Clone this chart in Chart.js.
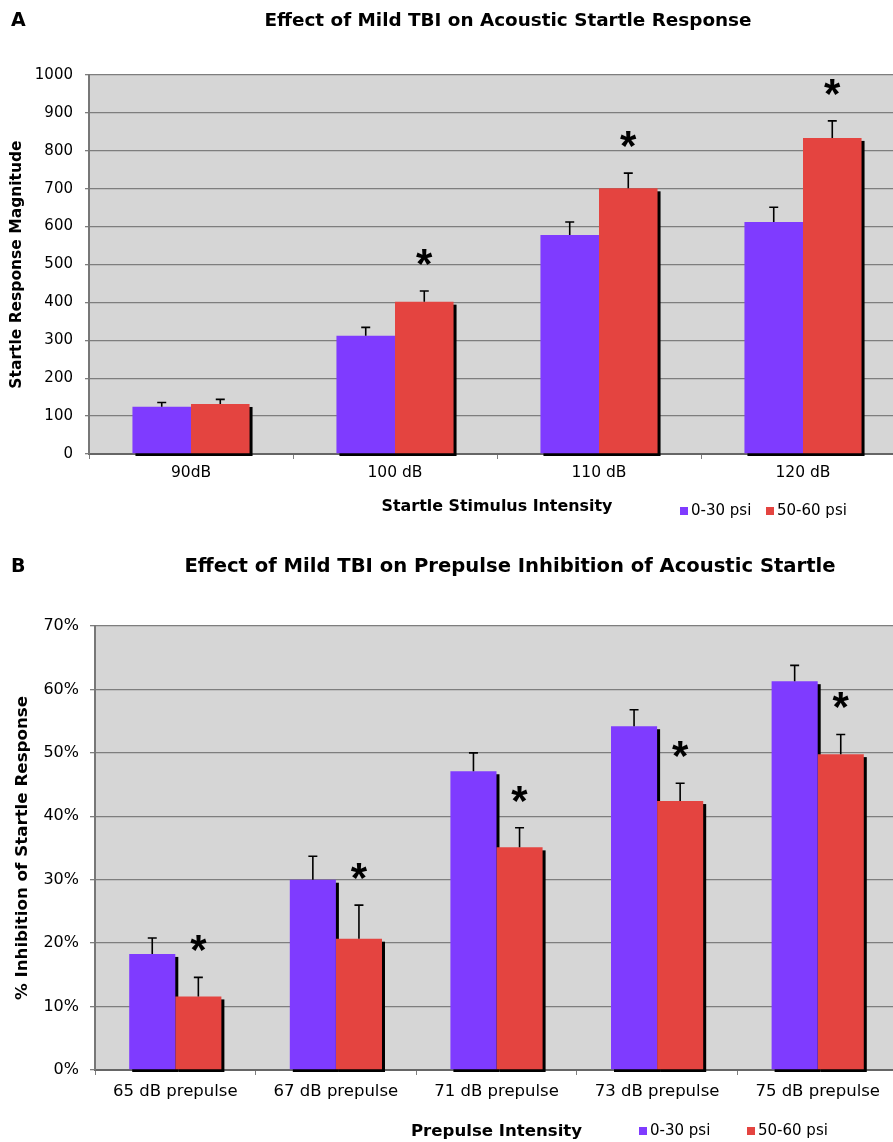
<!DOCTYPE html>
<html><head><meta charset="utf-8">
<script src="https://cdn.jsdelivr.net/npm/chart.js@4.4.1/dist/chart.umd.min.js"></script>
<style>
html,body{margin:0;padding:0;background:#fff;overflow:hidden;width:893px;height:1142px;position:relative;}
canvas{position:absolute;left:0;}
</style>
</head><body>
<canvas id="cA" width="910" height="545" style="top:0px"></canvas>
<canvas id="cB" width="910" height="597" style="top:545px"></canvas>
<script>
// ---------- data ----------
const seriesNames = ['0-30 psi', '50-60 psi'];
const catsA = ['90dB', '100 dB', '110 dB', '120 dB'];
const lowA = [125, 312, 578, 612];
const highA = [132, 402, 701, 834];
const lowErrA = [11, 22, 34, 39];
const highErrA = [12, 28, 40, 45];
const sigA = [false, true, true, true];

const catsB = ['65 dB prepulse', '67 dB prepulse', '71 dB prepulse', '73 dB prepulse', '75 dB prepulse'];
const lowB = [18.3, 30.0, 47.1, 54.2, 61.3];
const highB = [11.6, 20.7, 35.1, 42.4, 49.8];
const lowErrB = [2.5, 3.7, 2.9, 2.6, 2.5];
const highErrB = [3.0, 5.3, 3.1, 2.8, 3.1];
const sigB = [true, true, true, true, true];

// ---------- styles ----------
const FONT = "'DejaVu Sans', Verdana, sans-serif";
const PURPLE = '#7f3bff';
const RED = '#e44440';
const PLOTBG = '#d6d6d6';
const GRID = '#7e7e7e';

function plotBg() {
  return { id: 'plotBg', beforeDraw(chart) {
    const a = chart.chartArea, c = chart.ctx;
    c.save(); c.fillStyle = PLOTBG;
    c.fillRect(a.left, a.top, a.right - a.left, a.bottom - a.top);
    c.restore();
  }};
}
function barShadow() {
  return { id: 'barShadow', beforeDatasetsDraw(chart) {
    const a = chart.chartArea, c = chart.ctx;
    c.save(); c.beginPath();
    c.rect(a.left, a.top, a.right - a.left + 10, a.bottom - a.top + 2); c.clip();
    c.fillStyle = '#000';
    chart.data.datasets.forEach((ds, i) => {
      chart.getDatasetMeta(i).data.forEach(b => {
        const p = b.getProps(['x', 'y', 'base', 'width'], true);
        c.fillRect(p.x - p.width / 2 + 3, p.y + 3, p.width, p.base - p.y);
      });
    });
    c.restore();
  }};
}
function errStars(errs, sig, cap, gap) {
  return { id: 'errStars', afterDatasetsDraw(chart) {
    const c = chart.ctx, ys = chart.scales.y;
    c.save(); c.strokeStyle = '#000'; c.lineWidth = 1.6;
    chart.data.datasets.forEach((ds, i) => {
      chart.getDatasetMeta(i).data.forEach((b, j) => {
        const yt = ys.getPixelForValue(ds.data[j] + errs[i][j]);
        c.beginPath();
        c.moveTo(b.x, b.y); c.lineTo(b.x, yt);
        c.moveTo(b.x - cap, yt); c.lineTo(b.x + cap, yt);
        c.stroke();
      });
    });
    const ds = chart.data.datasets[1], meta = chart.getDatasetMeta(1);
    c.font = "bold 42px 'Liberation Sans', Arial, sans-serif";
    c.fillStyle = '#000'; c.textAlign = 'center'; c.textBaseline = 'alphabetic';
    const m = c.measureText('*');
    sig.forEach((s, j) => {
      if (!s) return;
      const b = meta.data[j];
      const yt = ys.getPixelForValue(ds.data[j] + errs[1][j]);
      const cy = yt - gap;
      c.fillText('*', b.x, cy + (m.actualBoundingBoxAscent - m.actualBoundingBoxDescent) / 2);
    });
    c.restore();
  }};
}
function header(letter, title, titleX, y, size) {
  return { id: 'header', afterDraw(chart) {
    const c = chart.ctx;
    c.save(); c.fillStyle = '#000'; c.textBaseline = 'middle';
    c.font = `bold 19px ${FONT}`; c.textAlign = 'left';
    c.fillText(letter, 11, y);
    c.font = `bold ${size}px ${FONT}`; c.textAlign = 'center';
    c.fillText(title, titleX, y);
    c.restore();
  }};
}
function legendBox(x1, x2, y) {
  return { id: 'legendBox', afterDraw(chart) {
    const c = chart.ctx;
    c.save(); c.textBaseline = 'middle'; c.textAlign = 'left';
    c.font = `15px ${FONT}`;
    [[x1, PURPLE], [x2, RED]].forEach(([x, col], i) => {
      c.fillStyle = col; c.fillRect(x, y - 4, 8, 8);
      c.fillStyle = '#000'; c.fillText(seriesNames[i], x + 11, y);
    });
    c.restore();
  }};
}

function makeChart(id, cfg) {
  return new Chart(document.getElementById(id), {
    type: 'bar',
    data: {
      labels: cfg.cats,
      datasets: [
        { label: seriesNames[0], data: cfg.low, backgroundColor: PURPLE, borderWidth: 0 },
        { label: seriesNames[1], data: cfg.high, backgroundColor: RED, borderWidth: 0 }
      ]
    },
    options: {
      responsive: false, animation: false, devicePixelRatio: 1,
      layout: { padding: cfg.pad },
      datasets: { bar: { categoryPercentage: 0.574, barPercentage: 1 } },
      plugins: { legend: { display: false }, tooltip: { enabled: false }, title: { display: false } },
      scales: {
        x: {
          grid: { drawOnChartArea: false, drawTicks: true, tickLength: 5, color: GRID, offset: true },
          border: { color: '#666', width: 2 },
          ticks: { color: '#000', font: { family: FONT, size: cfg.tickSize }, padding: cfg.xTickPad, maxRotation: 0 },
          title: { display: true, text: cfg.xTitle, color: '#000', font: { family: FONT, size: cfg.xTitleSize, weight: 'bold' }, padding: { top: 0, bottom: 0 } },
          afterFit(s) { s.height = cfg.xHeight; }
        },
        y: {
          min: 0, max: cfg.max,
          grid: { color: GRID, lineWidth: 1.3, tickLength: cfg.yTickLen, drawTicks: true },
          border: { color: '#777', width: 2 },
          ticks: { stepSize: cfg.step, color: '#000', font: { family: FONT, size: cfg.yTickSize }, padding: cfg.yTickPad, callback: cfg.fmt },
          title: { display: true, text: cfg.yTitle, color: '#000', font: { family: FONT, size: cfg.yTitleSize, weight: 'bold' }, padding: { top: cfg.yTitlePad, bottom: 0 } },
          afterFit(s) { s.width = cfg.yWidth; }
        }
      }
    },
    plugins: [plotBg(), barShadow(), errStars(cfg.errs, cfg.sig, cfg.cap, 34), header(cfg.letter, cfg.title, cfg.titleX, cfg.titleY, cfg.titleSize), legendBox(cfg.lx1, cfg.lx2, cfg.ly)]
  });
}

makeChart('cA', {
  cats: catsA, low: lowA, high: highA, errs: [lowErrA, highErrA], sig: sigA,
  pad: { top: 75, left: 0, right: 5, bottom: 29 },
  max: 1000, step: 100, fmt: v => String(v),
  tickSize: 15.5, yTickSize: 15, xTickPad: 5, yTickPad: 12, yTickLen: 4, yWidth: 89, xHeight: 62,
  xTitle: 'Startle Stimulus Intensity', xTitleSize: 15.9,
  yTitle: 'Startle Response Magnitude', yTitleSize: 15.5, yTitlePad: 8,
  cap: 4.5, letter: 'A', title: 'Effect of Mild TBI on Acoustic Startle Response', titleX: 508, titleY: 21, titleSize: 18.4,
  lx1: 680, lx2: 766, ly: 511
});
makeChart('cB', {
  cats: catsB, low: lowB, high: highB, errs: [lowErrB, highErrB], sig: sigB,
  pad: { top: 81, left: 0, right: 12, bottom: 0 },
  max: 70, step: 10, fmt: v => v + '%',
  tickSize: 16.5, yTickSize: 16, xTickPad: 7, yTickPad: 11, yTickLen: 5, yWidth: 95, xHeight: 72,
  xTitle: 'Prepulse Intensity', xTitleSize: 16.6,
  yTitle: '% Inhibition of Startle Response', yTitleSize: 16.7, yTitlePad: 13,
  cap: 4.5, letter: 'B', title: 'Effect of Mild TBI on Prepulse Inhibition of Acoustic Startle', titleX: 510, titleY: 22, titleSize: 19.6,
  lx1: 639, lx2: 747, ly: 586
});
</script>
</body></html>
